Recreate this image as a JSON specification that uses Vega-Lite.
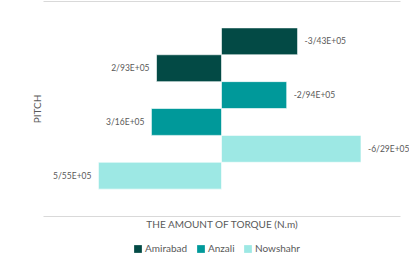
{
  "$schema": "https://vega.github.io/schema/vega-lite/v6.json",
  "autosize": "none",
  "width": 357,
  "height": 215,
  "padding": {"left": 43, "top": 1, "right": 9, "bottom": 57},
  "background": "white",
  "config": {"view": {"stroke": null}, "font": "Lato"},
  "data": {"values": [
    {"bar": 1, "city": "Amirabad", "torque": -343000, "label": "-3/43E+05"},
    {"bar": 2, "city": "Amirabad", "torque": 293000, "label": "2/93E+05"},
    {"bar": 3, "city": "Anzali", "torque": -294000, "label": "-2/94E+05"},
    {"bar": 4, "city": "Anzali", "torque": 316000, "label": "3/16E+05"},
    {"bar": 5, "city": "Nowshahr", "torque": -629000, "label": "-6/29E+05"},
    {"bar": 6, "city": "Nowshahr", "torque": 555000, "label": "5/55E+05"}
  ]},
  "encoding": {
    "y": {"field": "bar", "type": "ordinal", "sort": "ascending",
      "scale": {"paddingInner": 0, "paddingOuter": 2.2},
      "axis": {"title": "PITCH", "labels": false, "ticks": false, "domain": false, "titleFontSize": 10, "titleFontWeight": "normal", "titleColor": "#595959", "titlePadding": 1}}
  },
  "layer": [
    {
      "mark": {"type": "bar", "stroke": "white", "strokeWidth": 0.6},
      "encoding": {
        "x": {"field": "torque", "type": "quantitative",
          "scale": {"domain": [-805000, 805000], "reverse": true, "nice": false},
          "axis": {"orient": "bottom", "title": "THE AMOUNT OF TORQUE (N.m)", "labels": false, "ticks": false, "grid": false, "domainColor": "#d9d9d9", "titleFontSize": 10, "titleFontWeight": "normal", "titleColor": "#595959", "titlePadding": 3}},
        "x2": {"datum": 0},
        "color": {"field": "city", "type": "nominal",
          "scale": {"domain": ["Amirabad", "Anzali", "Nowshahr"], "range": ["#034A45", "#00999A", "#9DE8E4"]},
          "legend": {"title": null, "orient": "none", "legendX": 90, "legendY": 243, "direction": "horizontal", "symbolType": "square", "symbolSize": 60, "symbolStrokeWidth": 0, "labelFontSize": 10, "labelColor": "#595959", "columnPadding": 8, "labelOffset": 2}}
      }
    },
    {
      "transform": [{"filter": "datum.torque < 0"}],
      "mark": {"type": "text", "align": "left", "dx": 7, "fontSize": 8.5, "color": "#595959"},
      "encoding": {"text": {"field": "label"},
        "x": {"field": "torque", "type": "quantitative", "axis": null}}
    },
    {
      "transform": [{"filter": "datum.torque > 0"}],
      "mark": {"type": "text", "align": "right", "dx": -7, "fontSize": 8.5, "color": "#595959"},
      "encoding": {"text": {"field": "label"},
        "x": {"field": "torque", "type": "quantitative", "axis": {"orient": "top", "title": null, "labels": false, "ticks": false, "grid": false, "domainColor": "#d9d9d9"}}}
    }
  ],
  "resolve": {"axis": {"x": "independent"}}
}
